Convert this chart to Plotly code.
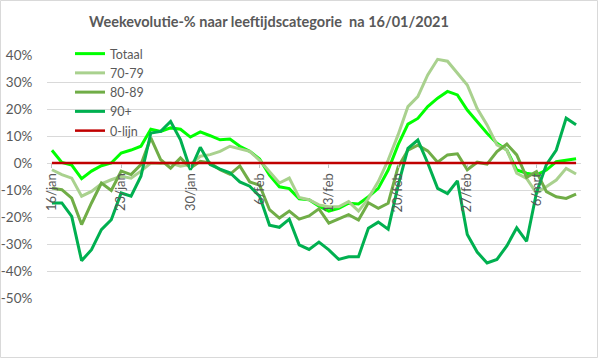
import pandas as pd
import plotly.graph_objects as go

dates = pd.date_range("2021-01-16", periods=54).strftime("%Y-%m-%d").tolist()

totaal = [4.7, 0.2, -0.8, -5.8, -3.0, -1.0, 0.0, 3.7, 4.8, 6.2,
          12.5, 11.7, 13.0, 12.5, 9.6, 11.5, 10.1, 8.6, 8.9, 6.2,
          4.3, 1.5, -4.5, -8.8, -9.5, -13.3, -13.6, -16.0, -17.8, -16.8,
          -14.9, -15.2, -12.5, -9.4, -2.6, 6.7, 14.4, 16.5, 20.9, 24.0,
          26.5, 25.2, 19.6, 15.3, 11.0, 7.3, 4.8, -2.6, -3.8, -4.4,
          -2.6, 0.5, 1.1, 1.6]
a70_79 = [-2.5, -4.3, -5.6, -12.3, -10.5, -7.7, -6.2, -4.9, -5.6, -3.0,
          0.0, -0.2, 0.0, -1.2, -0.5, 2.5, 3.1, 4.3, 6.2, 5.2,
          4.3, 1.0, -3.3, -7.4, -5.6, -12.8, -13.6, -15.5, -16.2, -16.2,
          -14.3, -17.8, -13.1, -6.9, 1.1, 10.4, 20.9, 24.6, 32.6, 38.4,
          37.7, 33.2, 28.9, 20.2, 14.1, 6.7, 4.8, -3.8, -5.7, -11.2,
          -8.8, -6.3, -2.0, -4.1]
a80_89 = [-9.3, -9.9, -13.0, -22.8, -14.8, -7.4, -10.2, -3.0, -4.3, -0.6,
          9.3, 1.2, -1.9, 1.9, -1.9, 0.6, 0.0, -2.5, -4.2, -1.1,
          -7.0, -8.2, -17.3, -20.4, -17.8, -20.8, -19.6, -17.0, -22.3, -20.7,
          -19.1, -21.1, -14.7, -16.8, -14.9, -1.5, 4.8, 6.6, 4.5, 0.3,
          3.0, 3.4, -2.5, 0.3, -0.4, 4.2, 7.0, 3.0, -5.3, -3.2,
          -10.6, -12.5, -13.1, -11.5]
a90p = [-14.8, -14.8, -19.8, -36.2, -32.1, -24.7, -21.0, -11.1, -12.3, -4.9,
        11.1, 11.7, 15.4, 8.6, -2.5, 5.8, -0.6, -2.3, -3.6, -7.0,
        -8.6, -12.3, -23.0, -23.8, -20.8, -30.3, -32.0, -29.3, -32.2, -35.7,
        -34.7, -34.7, -24.2, -21.9, -24.5, -8.5, 5.4, 8.5, 0.0, -9.4,
        -11.3, -6.6, -26.5, -33.0, -37.0, -35.7, -30.7, -24.0, -29.0, -11.0,
        -0.6, 4.8, 16.6, 14.2]
nul_lijn = [0.0] * 54

series_names = ["Totaal", "70-79", "80-89", "90+", "0-lijn"]
series_values = [totaal, a70_79, a80_89, a90p, nul_lijn]
series_colors = ["#00FF00", "#A9D18E", "#70AD47", "#00B050", "#C00000"]
series_widths = [3, 3, 3, 3, 2.5]

x_tickvals = ["2021-01-16", "2021-01-23", "2021-01-30", "2021-02-06",
              "2021-02-13", "2021-02-20", "2021-02-27", "2021-03-06"]
x_ticktext = ["16/jan", "23/jan", "30/jan", "6/feb", "13/feb", "20/feb", "27/feb", "6/mrt"]
y_tickvals = [0.4, 0.3, 0.2, 0.1, 0.0, -0.1, -0.2, -0.3, -0.4, -0.5]
y_ticktext = ["40%", "30%", "20%", "10%", "0%", "-10%", "-20%", "-30%", "-40%", "-50%"]

fig = go.Figure()
for name, vals, col, w in zip(series_names, series_values, series_colors, series_widths):
    fig.add_trace(go.Scatter(
        x=dates, y=[v / 100 for v in vals], name=name, mode="lines",
        line=dict(color=col, width=w), hoverinfo="skip"))

W, H = 599, 359
L, R, T, B = 47, 18, 55, 61
pw, ph = W - L - R, H - T - B
txt = "#595959"
fig.update_layout(
    width=W, height=H,
    margin=dict(l=L, r=R, t=T, b=B, autoexpand=False),
    paper_bgcolor="white", plot_bgcolor="white",
    font=dict(family="Lato", color=txt, size=13),
    title=dict(text="<b>Weekevolutie-% naar leeftijdscategorie  na 16/01/2021</b>",
               x=269 / W, xanchor="center", xref="container",
               y=1 - 22 / H, yanchor="middle", yref="container",
               font=dict(family="Lato", size=14.5, color=txt)),
    showlegend=True,
    legend=dict(x=70 / W, y=1 - 39 / H, xanchor="left", yanchor="top",
                xref="container", yref="container",
                bgcolor="rgba(0,0,0,0)", font=dict(size=12.5, color=txt),
                tracegroupgap=0),
    xaxis=dict(type="date",
               range=["2021-01-15 12:00", "2021-03-10 12:00"],
               anchor="free", position=0.5 / 0.9,
               tickvals=x_tickvals, ticktext=x_ticktext, tickangle=-90,
               ticks="outside", ticklen=4, tickcolor="#BFBFBF",
               showgrid=False, showline=False, zeroline=False,
               tickfont=dict(size=13, color=txt)),
    yaxis=dict(range=[-0.5, 0.4], tickvals=y_tickvals, ticktext=y_ticktext,
               showgrid=True, gridcolor="#D9D9D9", gridwidth=1,
               zeroline=False, showline=False,
               ticks="outside", ticklen=11, tickcolor="rgba(0,0,0,0)",
               tickfont=dict(size=13.5, color=txt)),
    shapes=[dict(type="rect", xref="paper", yref="paper",
                 x0=-(L - 0.5) / pw, x1=(W - L - 1.5) / pw,
                 y0=-(B - 1.5) / ph, y1=1 + (T - 0.5) / ph,
                 line=dict(color="#D9D9D9", width=1), fillcolor="rgba(0,0,0,0)", layer="below")],
)

fig.write_html("out.html", config={"displayModeBar": False},
               post_script="document.body.style.margin='0';")
